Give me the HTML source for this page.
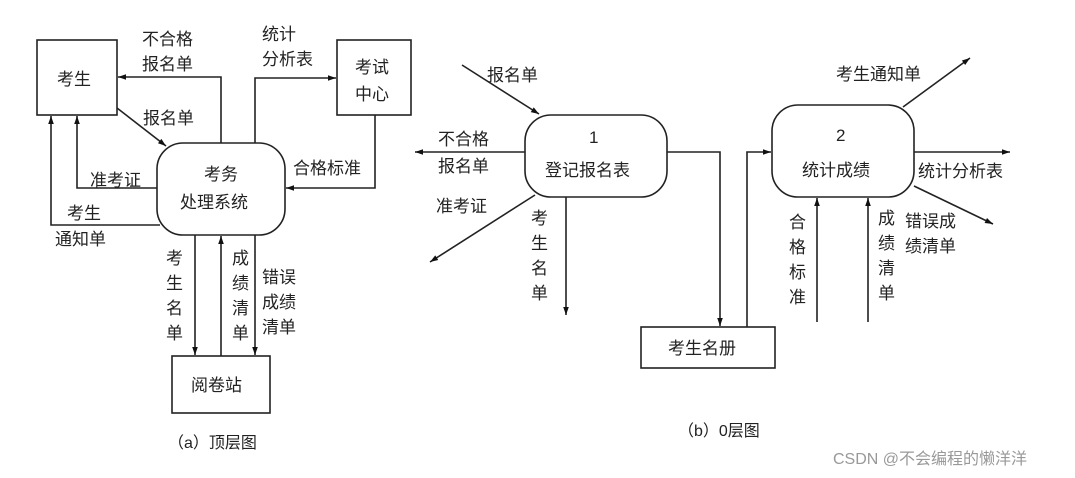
<!DOCTYPE html>
<html><head><meta charset="utf-8"><style>
body{margin:0;background:#fff}
svg text{font-family:"Liberation Sans","Noto Sans CJK SC",sans-serif;fill:#222}
</style></head><body>
<svg width="1075" height="473" viewBox="0 0 1075 473" xmlns="http://www.w3.org/2000/svg">
<defs><marker id="a" viewBox="0 0 10 10" refX="10" refY="5" markerWidth="10" markerHeight="8" orient="auto-start-reverse" markerUnits="userSpaceOnUse"><path d="M0,1.5 L10,5 L0,8.5 z" fill="#111"/></marker></defs>
<g stroke="#222" stroke-width="1.6" fill="none">
<rect x="37" y="40" width="80" height="75"/>
<rect x="337" y="40" width="74" height="75"/>
<rect x="157" y="143" width="128" height="92" rx="26"/>
<rect x="172" y="356" width="98" height="57"/>
<path d="M221,143 V77 H118" marker-end="url(#a)"/>
<path d="M255,143 V78 H336" marker-end="url(#a)"/>
<path d="M117,108 L166,146" marker-end="url(#a)"/>
<path d="M375,115 V188 H286" marker-end="url(#a)"/>
<path d="M157,188 H77 V116" marker-end="url(#a)"/>
<path d="M160,225 H51 V116" marker-end="url(#a)"/>
<path d="M195,235 V355" marker-end="url(#a)"/>
<path d="M221,356 V236" marker-end="url(#a)"/>
<path d="M255,235 V355" marker-end="url(#a)"/>
<rect x="525" y="115" width="142" height="82" rx="26"/>
<rect x="772" y="105" width="142" height="92" rx="26"/>
<rect x="641" y="327" width="134" height="41"/>
<path d="M462,65 L539,114" marker-end="url(#a)"/>
<path d="M525,152 H415" marker-end="url(#a)"/>
<path d="M535,195 L430,262" marker-end="url(#a)"/>
<path d="M566,197 V315" marker-end="url(#a)"/>
<path d="M667,152 H720 V326" marker-end="url(#a)"/>
<path d="M747,327 V152 H771" marker-end="url(#a)"/>
<path d="M903,107 L970,58" marker-end="url(#a)"/>
<path d="M914,152 H1010" marker-end="url(#a)"/>
<path d="M914,186 L993,224" marker-end="url(#a)"/>
<path d="M817,322 V198" marker-end="url(#a)"/>
<path d="M868,322 V198" marker-end="url(#a)"/>
</g>
<g font-size="17">
<text x="57" y="85">考生</text>
<text x="355" y="73">考试</text><text x="355" y="100">中心</text>
<text x="204" y="180">考务</text><text x="180" y="208">处理系统</text>
<text x="142" y="45">不合格</text><text x="142" y="70">报名单</text>
<text x="262" y="40">统计</text><text x="262" y="65">分析表</text>
<text x="143" y="124">报名单</text>
<text x="293" y="174">合格标准</text>
<text x="90" y="186">准考证</text>
<text x="67" y="219">考生</text><text x="55" y="245">通知单</text>
<text x="166" y="264">考</text><text x="166" y="289">生</text><text x="166" y="314">名</text><text x="166" y="339">单</text>
<text x="232" y="264">成</text><text x="232" y="289">绩</text><text x="232" y="314">清</text><text x="232" y="339">单</text>
<text x="262" y="283">错误</text><text x="262" y="308">成绩</text><text x="262" y="333">清单</text>
<text x="191" y="391">阅卷站</text>
<text x="168" y="448" font-size="16">（a）顶层图</text>
<text x="487" y="81">报名单</text>
<text x="589" y="143" font-family="Liberation Serif">1</text>
<text x="545" y="176">登记报名表</text>
<text x="438" y="145">不合格</text><text x="438" y="172">报名单</text>
<text x="436" y="212">准考证</text>
<text x="531" y="224">考</text><text x="531" y="249">生</text><text x="531" y="274">名</text><text x="531" y="299">单</text>
<text x="668" y="354">考生名册</text>
<text x="836" y="141" font-family="Liberation Serif">2</text>
<text x="802" y="176">统计成绩</text>
<text x="836" y="80">考生通知单</text>
<text x="918" y="177">统计分析表</text>
<text x="905" y="227">错误成</text><text x="905" y="252">绩清单</text>
<text x="789" y="228">合</text><text x="789" y="253">格</text><text x="789" y="278">标</text><text x="789" y="303">准</text>
<text x="878" y="224">成</text><text x="878" y="249">绩</text><text x="878" y="274">清</text><text x="878" y="299">单</text>
<text x="678" y="436" font-size="16">（b）0层图</text>
<text x="833" y="464" font-size="16" style="fill:#999">CSDN @不会编程的懒洋洋</text>
</g>
</svg>
</body></html>
